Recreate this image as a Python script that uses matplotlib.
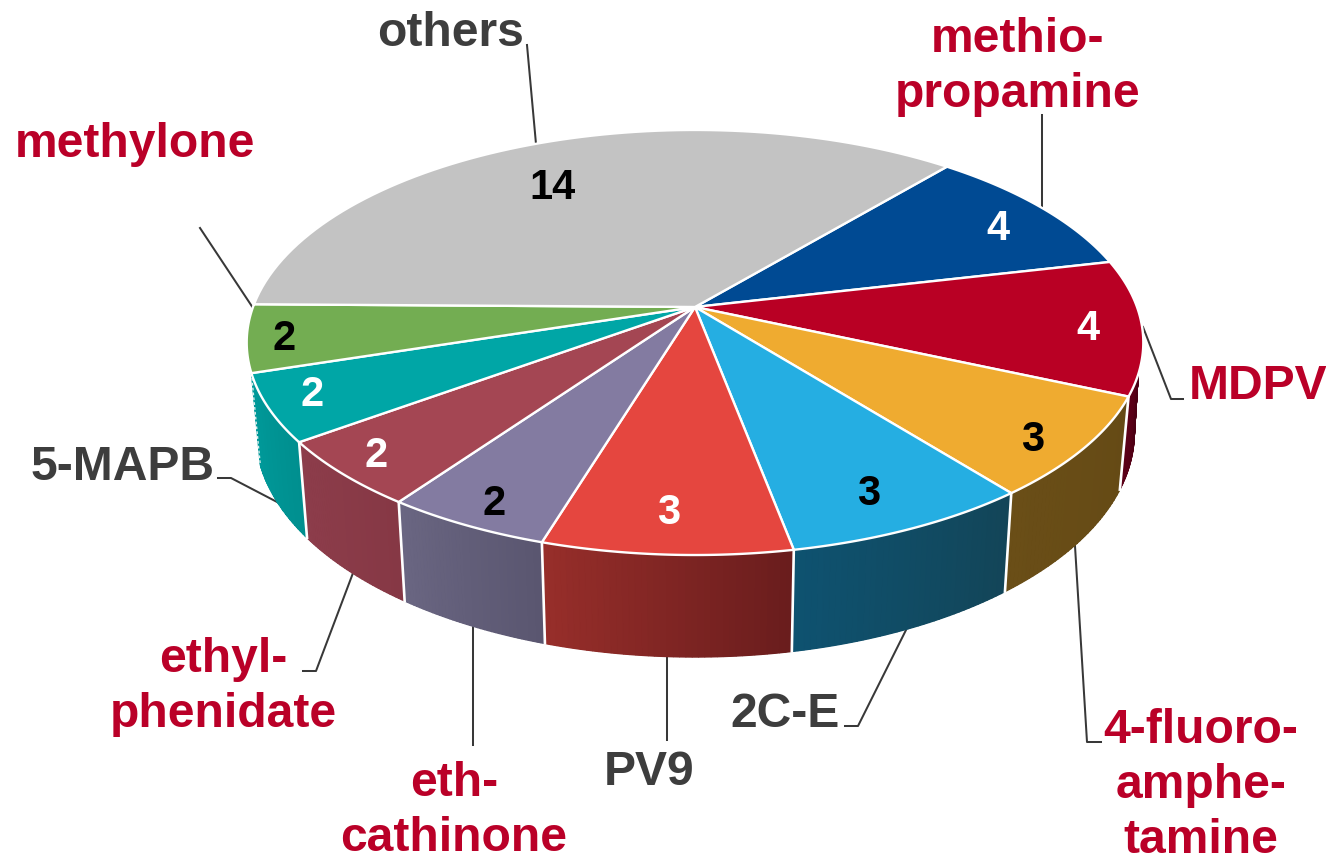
import numpy as np
import matplotlib
matplotlib.use('Agg')
import matplotlib.pyplot as plt
from matplotlib.colors import to_rgb

# --- Data ---
names = ['methio-\npropamine', 'MDPV', '4-fluoro-\namphe-\ntamine', '2C-E', 'PV9',
         'eth-\ncathinone', 'ethyl-\nphenidate', '5-MAPB', 'methylone', 'others']
values = [4, 4, 3, 3, 3, 2, 2, 2, 2, 14]

# --- Styles ---
top_colors = ['#004A93', '#B90024', '#EFAB30', '#25AEE2', '#E5463F',
              '#837BA1', '#A44653', '#00A6A6', '#73AD52', '#C3C3C3']
wall_left = ['#004A93', '#5E0018', '#6A4E17', '#0E5270', '#972E2A',
             '#6A6682', '#8D3D4B', '#009A9A', '#73AD52', '#C3C3C3']
wall_right = ['#004A93', '#4C0014', '#654A15', '#134558', '#6A1D1D',
              '#5A5670', '#863845', '#008F8F', '#73AD52', '#C3C3C3']
label_colors = ['#BA0028', '#BA0028', '#BA0028', '#3D3D3D', '#3D3D3D',
                '#BA0028', '#BA0028', '#3D3D3D', '#BA0028', '#3D3D3D']
number_colors = ['white', 'white', 'black', 'black', 'white',
                 'black', 'white', 'white', 'black', 'black']

# label anchors in picture pixels: x centre, baseline of first line
label_pos = [(1018, 52), (1258, 399), (1201, 743), (785, 727), (649, 785),
             (454, 796), (223, 672), (123, 480), (135, 157), (451, 46)]
number_pos = [(998, 240), (1088, 340), (1033, 451), (869, 505), (669, 524),
              (494, 515), (376, 467), (312, 406), (284, 350), (553, 199)]
leaders = [[(1042, 115), (1042, 208)],
           [(1143, 327), (1171, 399), (1183, 399)],
           [(1075, 546), (1087, 742), (1101, 742)],
           [(845, 726), (858, 726), (906, 630)],
           [(667, 656), (667, 740)],
           [(473, 625), (473, 745)],
           [(303, 671), (316, 671), (353, 573)],
           [(218, 478), (231, 478), (279, 503)],
           [(200, 228), (257, 314)],
           [(527, 45), (536, 144)]]

# --- Pie geometry (circle seen in perspective) ---
cx, cy = 695, 307
rx, ry, persp = 442, 206.6, 0.167
start_angle = 50
wall_lo, wall_hi, wall_hi_top = -162.3, -10, -18


def rim(t):
    t = np.radians(t)
    den = 1 + persp * np.sin(t)
    return rx * np.cos(t) / den, ry * np.sin(t) / den


def top_rim(t):
    x, y = rim(t)
    return cx + x, cy - y


def bottom_rim(t):
    x, y = rim(t)
    return cx + 0.98 * x, cy - 1.0566 * y + 88


fig = plt.figure(figsize=(13.26, 8.55), dpi=100)
ax = fig.add_axes([0, 0, 1, 1])
ax.set_xlim(0, 1326)
ax.set_ylim(855, 0)
ax.axis('off')
font = ['Liberation Sans', 'DejaVu Sans']

sweep = np.array(values) / sum(values) * 360
ends = start_angle - np.cumsum(sweep)
starts = ends + sweep

# --- Leader lines ---
for pts in leaders:
    xs, ys = zip(*pts)
    ax.plot(xs, ys, color='#383838', lw=1.45, zorder=1)

# --- Side wall: thin strips give the left to right shading ---
for i in range(len(values)):
    hi = min(starts[i], wall_hi)
    lo = max(ends[i], wall_lo)
    if hi <= lo:
        continue
    edges = np.linspace(lo, hi, 41)
    c0, c1 = np.array(to_rgb(wall_left[i])), np.array(to_rgb(wall_right[i]))
    # one solid piece first so the strips leave no seams
    a = np.linspace(lo, hi, 60)
    tx, ty = top_rim(np.minimum(a, wall_hi_top))
    bx, by = bottom_rim(a)
    ax.fill(np.r_[tx, bx[::-1]], np.r_[ty, by[::-1]], color=(c0 + c1) / 2, lw=0, zorder=2)
    for j in range(40):
        col = c0 + (c1 - c0) * j / 39
        a = np.linspace(edges[j], edges[j + 1], 4)
        tx, ty = top_rim(np.minimum(a, wall_hi_top))
        bx, by = bottom_rim(a)
        ax.fill(np.r_[tx, bx[::-1]], np.r_[ty, by[::-1]], facecolor=col, edgecolor=col,
                lw=0.9, zorder=2)
    if starts[i] < wall_hi:
        tx, ty = top_rim(starts[i])
        bx, by = bottom_rim(starts[i])
        ax.plot([tx, bx], [ty, by], color='white', lw=1.9, zorder=3)
tx, ty = top_rim(wall_lo)
bx, by = bottom_rim(wall_lo)
ax.plot([tx, bx], [ty, by], color='#DDEEEE', lw=1.0, ls=(0, (2, 1.5)), zorder=3)

# --- Top face ---
for i in range(len(values)):
    t = np.linspace(starts[i], ends[i], 80)
    x, y = top_rim(t)
    ax.fill(np.r_[cx, x], np.r_[cy, y], facecolor=top_colors[i], edgecolor='white',
            lw=1.7, joinstyle='round', zorder=4)

# --- Texts ---
for i, name in enumerate(names):
    x, y = label_pos[i]
    for k, line in enumerate(name.split('\n')):
        ax.text(x, y + 55 * k, line, ha='center', va='baseline', color=label_colors[i],
                fontsize=34.6, fontweight='bold', family=font, zorder=5)
    x, y = number_pos[i]
    ax.text(x, y, str(values[i]), ha='center', va='baseline', color=number_colors[i],
            fontsize=30, fontweight='bold', family=font, zorder=5)

fig.savefig('out.png', dpi=100)
